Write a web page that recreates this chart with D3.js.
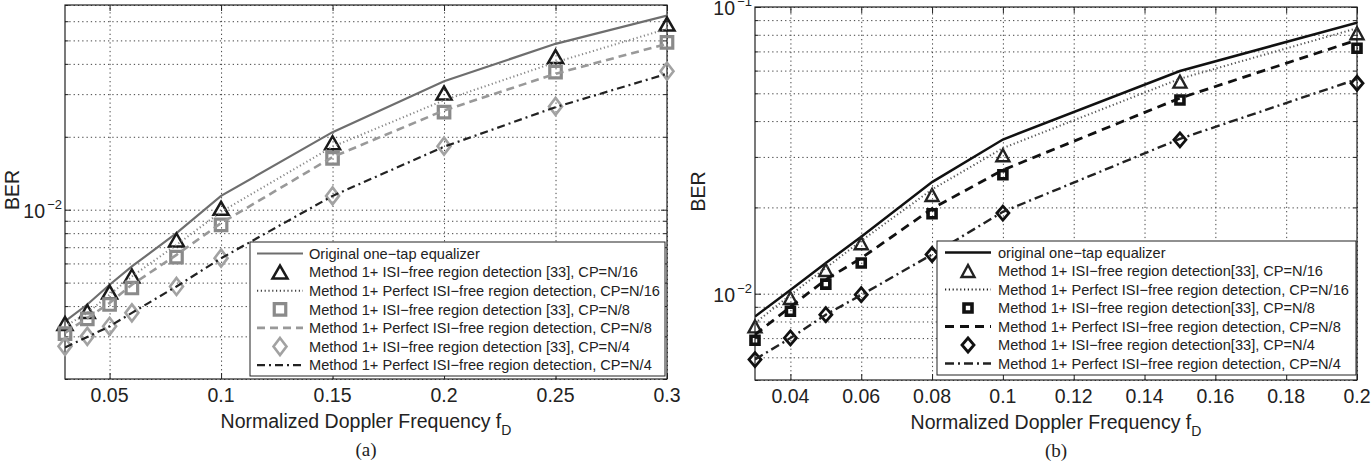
<!DOCTYPE html>
<html><head><meta charset="utf-8">
<script src="https://cdn.jsdelivr.net/npm/d3@7/dist/d3.min.js"></script>
<style>
body{margin:0;background:#fff;}
svg{display:block;font-family:"Liberation Sans",Arial,Helvetica,sans-serif;}
</style></head><body>
<svg id="chart" width="1371" height="463"></svg>
<script>
// ---- Panel (a): BER vs normalized Doppler frequency ----
const fdA = [0.03, 0.04, 0.05, 0.06, 0.08, 0.1, 0.15, 0.2, 0.25, 0.3];
const berOrigA   = [3.46e-3, 4.06e-3, 4.90e-3, 5.83e-3, 8.0e-3, 1.14e-2, 2.09e-2, 3.39e-2, 4.84e-2, 6.33e-2];
const berDet16A  = [3.39e-3, 3.80e-3, 4.57e-3, 5.33e-3, 7.50e-3, 1.013e-2, 1.89e-2, 3.03e-2, 4.29e-2, 5.84e-2];
const berPerf16A = [3.30e-3, 3.75e-3, 4.46e-3, 5.30e-3, 7.16e-3, 9.8e-3, 1.82e-2, 2.83e-2, 4.06e-2, 5.58e-2];
const berDet8A   = [3.08e-3, 3.54e-3, 4.06e-3, 4.75e-3, 6.37e-3, 8.65e-3, 1.63e-2, 2.53e-2, 3.70e-2, 4.91e-2];
const berPerf8A  = [3.10e-3, 3.57e-3, 4.12e-3, 4.90e-3, 6.51e-3, 8.8e-3, 1.65e-2, 2.57e-2, 3.64e-2, 4.84e-2];
const berDet4A   = [2.73e-3, 3.00e-3, 3.30e-3, 3.75e-3, 4.82e-3, 6.31e-3, 1.14e-2, 1.83e-2, 2.67e-2, 3.73e-2];
const berPerf4A  = [2.70e-3, 2.98e-3, 3.30e-3, 3.75e-3, 4.82e-3, 6.3e-3, 1.14e-2, 1.82e-2, 2.65e-2, 3.64e-2];
const xTicksA = [0.05, 0.1, 0.15, 0.2, 0.25, 0.3];
const xTickLabelsA = ["0.05", "0.1", "0.15", "0.2", "0.25", "0.3"];
const legendA = [
  "Original one\u2212tap equalizer",
  "Method 1+ ISI\u2212free region detection [33], CP=N/16",
  "Method 1+ Perfect ISI\u2212free region detection, CP=N/16",
  "Method 1+ ISI\u2212free region detection [33], CP=N/8",
  "Method 1+ Perfect ISI\u2212free region detection, CP=N/8",
  "Method 1+ ISI\u2212free region detection [33], CP=N/4",
  "Method 1+ Perfect ISI\u2212free region detection, CP=N/4"
];

// ---- Panel (b) ----
const fdB = [0.03, 0.04, 0.05, 0.06, 0.08, 0.1, 0.15, 0.2];
const berOrigB   = [8.33e-3, 1.03e-2, 1.28e-2, 1.58e-2, 2.45e-2, 3.45e-2, 5.98e-2, 8.82e-2];
const berDet16B  = [7.69e-3, 9.66e-3, 1.21e-2, 1.50e-2, 2.21e-2, 3.04e-2, 5.49e-2, 8.10e-2];
const berPerf16B = [7.9e-3, 9.9e-3, 1.23e-2, 1.53e-2, 2.31e-2, 3.22e-2, 5.62e-2, 8.43e-2];
const berDet8B   = [6.88e-3, 8.68e-3, 1.08e-2, 1.28e-2, 1.90e-2, 2.60e-2, 4.74e-2, 7.18e-2];
const berPerf8B  = [7.2e-3, 9.0e-3, 1.12e-2, 1.33e-2, 1.98e-2, 2.70e-2, 4.81e-2, 7.67e-2];
const berDet4B   = [5.89e-3, 7.01e-3, 8.45e-3, 9.92e-3, 1.37e-2, 1.91e-2, 3.44e-2, 5.42e-2];
const berPerf4B  = [5.9e-3, 7.0e-3, 8.45e-3, 9.9e-3, 1.37e-2, 1.93e-2, 3.47e-2, 5.6e-2];
const xTicksB = [0.04, 0.06, 0.08, 0.1, 0.12, 0.14, 0.16, 0.18, 0.2];
const xTickLabelsB = ["0.04", "0.06", "0.08", "0.1", "0.12", "0.14", "0.16", "0.18", "0.2"];
const legendB = [
  "original one\u2212tap equalizer",
  "Method 1+ ISI\u2212free region detection[33], CP=N/16",
  "Method 1+ Perfect ISI\u2212free region detection, CP=N/16",
  "Method 1+ ISI\u2212free region detection[33], CP=N/8",
  "Method 1+ Perfect ISI\u2212free region detection, CP=N/8",
  "Method 1+ ISI\u2212free region detection[33], CP=N/4",
  "Method 1+ Perfect ISI\u2212free region detection, CP=N/4"
];

const svg = d3.select("#chart");

function markerPath(kind, s) {
  if (kind === "tri") {
    const w = s.w / 2, h = s.h / 2;
    return `M${-w},${h}L${w},${h}L0,${-h}Z`;
  }
  if (kind === "sq") {
    const a = s.w / 2;
    return `M${-a},${-a}H${a}V${a}H${-a}Z`;
  }
  const w = s.w / 2, h = s.h / 2;
  return `M0,${-h}L${w},0L0,${h}L${-w},0Z`;
}

function drawPanel(p) {
  const g = svg.append("g");
  const x = d3.scaleLinear().domain(p.xDomain).range([p.left, p.right]);
  const y = d3.scaleLog().domain(p.yDomain).range([p.bottom, p.top]);
  const H = p.bottom - p.top, W = p.right - p.left;

  // log-axis grid values (1..9 multiples of each decade inside the domain)
  const yVals = [];
  for (let e = -4; e <= 0; e++) for (let m = 1; m <= 9; m++) {
    const v = +(m * Math.pow(10, e)).toPrecision(3);
    if (v >= p.yDomain[0] * 0.999 && v <= p.yDomain[1] * 1.001) yVals.push(v);
  }

  // dotted grid
  g.append("g").attr("transform", `translate(0,${p.bottom})`)
    .call(d3.axisBottom(x).tickValues(p.xTicks).tickSize(-H).tickFormat(""))
    .call(a => a.select(".domain").remove())
    .call(a => a.selectAll("line").attr("stroke", "#444").attr("stroke-width", 1).attr("stroke-dasharray", "1.3,3"));
  g.append("g").attr("transform", `translate(${p.left},0)`)
    .call(d3.axisLeft(y).tickValues(yVals).tickSize(-W).tickFormat(""))
    .call(a => a.select(".domain").remove())
    .call(a => a.selectAll("line").attr("stroke", "#444").attr("stroke-width", 1).attr("stroke-dasharray", "1.3,3"));

  // inward tick marks on all four sides
  const tickLen = 6, minorLen = 3.5;
  g.append("g").attr("transform", `translate(0,${p.bottom})`)
    .call(d3.axisBottom(x).tickValues(p.xTicks).tickSize(-tickLen).tickFormat(""))
    .call(a => a.select(".domain").remove()).selectAll("line").attr("stroke", "#222");
  g.append("g").attr("transform", `translate(0,${p.top})`)
    .call(d3.axisTop(x).tickValues(p.xTicks).tickSize(-tickLen).tickFormat(""))
    .call(a => a.select(".domain").remove()).selectAll("line").attr("stroke", "#222");
  const majors = yVals.filter(v => Math.abs(Math.log10(v) - Math.round(Math.log10(v))) < 1e-6);
  const minors = yVals.filter(v => !majors.includes(v));
  [[d3.axisLeft, p.left], [d3.axisRight, p.right]].forEach(([ax, pos]) => {
    g.append("g").attr("transform", `translate(${pos},0)`)
      .call(ax(y).tickValues(majors).tickSize(-tickLen).tickFormat(""))
      .call(a => a.select(".domain").remove()).selectAll("line").attr("stroke", "#222");
    g.append("g").attr("transform", `translate(${pos},0)`)
      .call(ax(y).tickValues(minors).tickSize(-minorLen).tickFormat(""))
      .call(a => a.select(".domain").remove()).selectAll("line").attr("stroke", "#222");
  });

  // box
  g.append("rect").attr("x", p.left).attr("y", p.top).attr("width", W).attr("height", H)
    .attr("fill", "none").attr("stroke", "#222").attr("stroke-width", 1.2);

  // x tick labels
  g.append("g").selectAll("text").data(p.xTicks).join("text")
    .attr("x", d => x(d)).attr("y", p.bottom + 23)
    .attr("text-anchor", "middle").attr("font-size", 19.5).attr("fill", "#222")
    .text((d, i) => p.xTickLabels[i]);

  // y tick labels (decades, with superscript exponent)
  const yl = g.append("g").selectAll("text").data(majors).join("text")
    .attr("x", p.left - 20).attr("y", d => y(d) + 8)
    .attr("text-anchor", "end").attr("font-size", 19.5).attr("fill", "#222");
  yl.append("tspan").text("10");
  yl.append("tspan").attr("x", p.left - 3).attr("dy", -9).attr("font-size", 13).attr("text-anchor", "end")
    .text(d => "\u2212" + Math.round(-Math.log10(d)));

  // axis titles
  g.append("text").attr("transform", `translate(${p.left - p.yTitleGap},${(p.top + p.bottom) / 2 - 2}) rotate(-90)`)
    .attr("text-anchor", "middle").attr("font-size", 19.5).attr("fill", "#222").text("BER");
  const xt = g.append("text").attr("x", (p.left + p.right) / 2).attr("y", p.bottom + 49)
    .attr("text-anchor", "middle").attr("font-size", 19.5).attr("fill", "#222");
  xt.append("tspan").text("Normalized Doppler Frequency f");
  xt.append("tspan").attr("dy", 7).attr("font-size", 14).text("D");
  g.append("text").attr("x", (p.left + p.right) / 2).attr("y", p.bottom + 77)
    .attr("text-anchor", "middle").attr("font-size", 19)
    .attr("font-family", "'Liberation Serif','Times New Roman',serif").attr("fill", "#222").text(p.caption);

  // curves and markers
  const line = d3.line().x(d => x(d[0])).y(d => y(d[1]));
  const clipId = "clip" + p.caption.replace(/\W/g, "");
  svg.append("clipPath").attr("id", clipId).append("rect")
    .attr("x", p.left).attr("y", p.top).attr("width", W).attr("height", H);
  p.series.forEach(s => {
    const pts = p.fd.map((f, i) => [f, s.values[i]]);
    if (s.kind === "line") {
      g.append("path").attr("d", line(pts)).attr("fill", "none")
        .attr("stroke", s.color).attr("stroke-width", s.width)
        .attr("stroke-dasharray", s.dash || null).attr("clip-path", `url(#${clipId})`);
    } else {
      g.append("g").selectAll("path").data(pts).join("path")
        .attr("transform", d => `translate(${x(d[0])},${y(d[1])})`)
        .attr("d", markerPath(s.marker, s.size)).attr("fill", s.fill || "none")
        .attr("stroke", s.color).attr("stroke-width", s.width).attr("stroke-linejoin", "miter");
    }
  });

  // legend
  const L = p.legend;
  const lg = g.append("g");
  lg.append("rect").attr("x", L.x).attr("y", L.y).attr("width", L.w).attr("height", L.h)
    .attr("fill", "#fff").attr("stroke", "#222").attr("stroke-width", 1);
  p.series.forEach((s, i) => {
    const cy = L.y + L.first + i * L.step;
    if (s.kind === "line") {
      lg.append("line").attr("x1", L.x + L.s0).attr("x2", L.x + L.s1).attr("y1", cy).attr("y2", cy)
        .attr("stroke", s.legendColor || s.color).attr("stroke-width", s.width).attr("stroke-dasharray", s.dash || null);
    } else {
      lg.append("path").attr("transform", `translate(${L.x + (L.s0 + L.s1) / 2},${cy})`)
        .attr("d", markerPath(s.marker, s.size)).attr("fill", s.fill || "none")
        .attr("stroke", s.color).attr("stroke-width", s.width);
    }
    lg.append("text").attr("x", L.x + L.tx).attr("y", cy + 5.2).attr("font-size", 14.6)
      .attr("fill", "#222").text(p.legendText[i]);
  });
}

drawPanel({
  caption: "(a)", left: 65, right: 667, top: 5, bottom: 379, yTitleGap: 46,
  xDomain: [0.03, 0.3], yDomain: [2e-3, 7e-2], fd: fdA,
  xTicks: xTicksA, xTickLabels: xTickLabelsA, legendText: legendA,
  legend: { x: 250, y: 242, w: 415, h: 134, first: 11.5, step: 18.6, s0: 7, s1: 53, tx: 59 },
  series: [
    { kind: "line", values: berOrigA, color: "#6e6e6e", width: 2.2 },
    { kind: "marker", values: berDet16A, marker: "tri", size: { w: 15, h: 13 }, color: "#1a1a1a", width: 2.5 },
    { kind: "line", values: berPerf16A, color: "#888", width: 2, dash: "1.2,2.6", legendColor: "#444" },
    { kind: "marker", values: berDet8A, marker: "sq", size: { w: 11.5 }, color: "#8a8a8a", width: 3.2 },
    { kind: "line", values: berPerf8A, color: "#999", width: 2.6, dash: "8,5" },
    { kind: "marker", values: berDet4A, marker: "dia", size: { w: 13, h: 17 }, color: "#a2a2a2", width: 2.6 },
    { kind: "line", values: berPerf4A, color: "#222", width: 2.2, dash: "8,4,2,4" }
  ]
});

drawPanel({
  caption: "(b)", left: 755, right: 1357, top: 7, bottom: 380, yTitleGap: 50,
  xDomain: [0.03, 0.2], yDomain: [5e-3, 1e-1], fd: fdB,
  xTicks: xTicksB, xTickLabels: xTickLabelsB, legendText: legendB,
  legend: { x: 937, y: 241, w: 419, h: 134, first: 11.5, step: 18.5, s0: 8, s1: 54, tx: 61 },
  series: [
    { kind: "line", values: berOrigB, color: "#111", width: 2.5 },
    { kind: "marker", values: berDet16B, marker: "tri", size: { w: 13, h: 12 }, color: "#222", width: 2.4 },
    { kind: "line", values: berPerf16B, color: "#555", width: 2, dash: "1.2,2.6", legendColor: "#222" },
    { kind: "marker", values: berDet8B, marker: "sq", size: { w: 8 }, color: "#111", width: 3.6 },
    { kind: "line", values: berPerf8B, color: "#111", width: 2.8, dash: "9,6" },
    { kind: "marker", values: berDet4B, marker: "dia", size: { w: 12, h: 14 }, color: "#111", width: 2.8 },
    { kind: "line", values: berPerf4B, color: "#222", width: 2.4, dash: "9,4,2,4" }
  ]
});
</script>
</body></html>
